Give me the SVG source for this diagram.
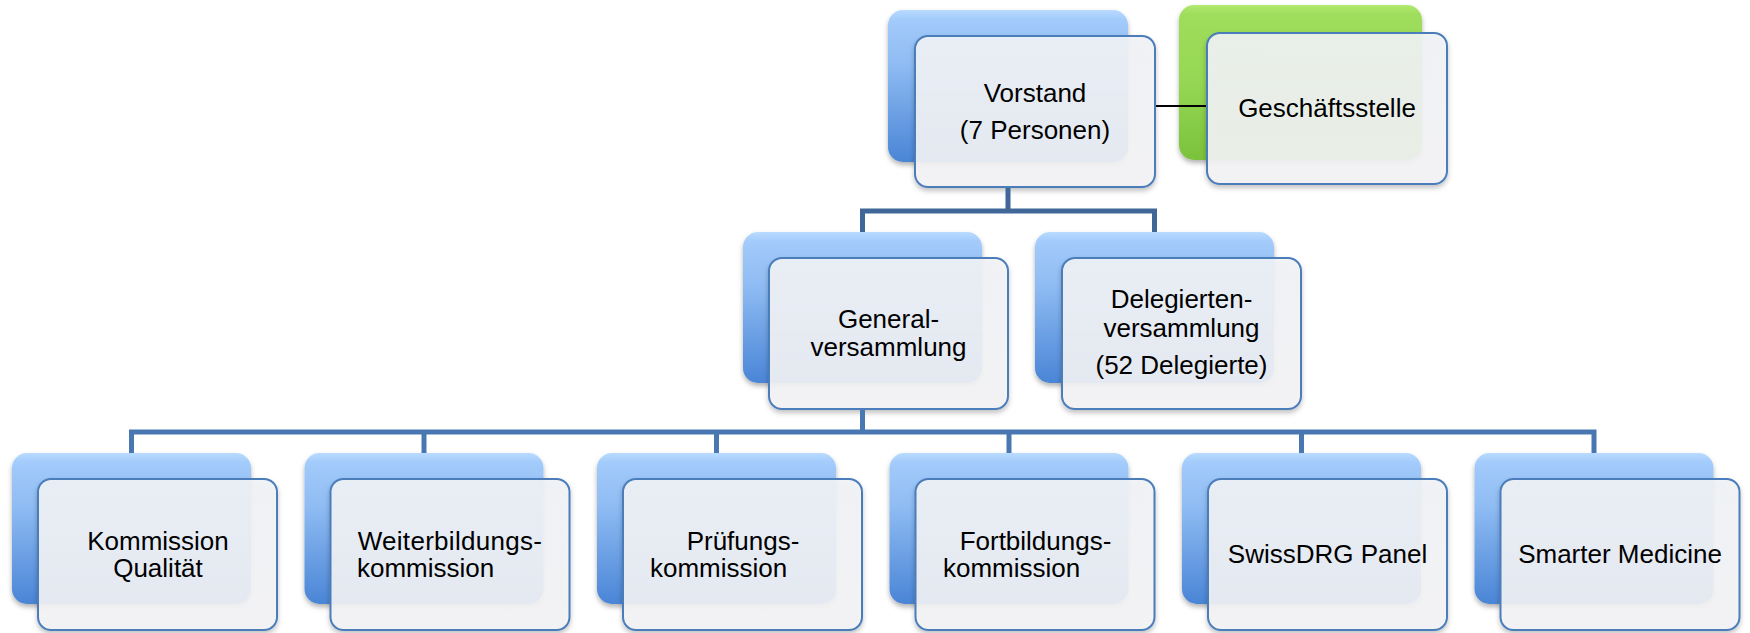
<svg xmlns="http://www.w3.org/2000/svg" width="1750" height="633" viewBox="0 0 1750 633">
<style>
  .back{fill:url(#blueGrad);filter:url(#sh);}
  .backG{fill:url(#greenGrad);filter:url(#sh);}
  .front{fill:url(#frontGrad);fill-opacity:0.9;stroke:#4b7dba;stroke-width:2;filter:url(#sh2);}
  .t{font-family:"Liberation Sans",Arial,sans-serif;font-size:26px;fill:#000;text-anchor:middle;}
  .ts{text-anchor:start;}
  .c1{fill:none;stroke:#3f6898;stroke-width:5;stroke-linejoin:miter;}
  .c2{fill:none;stroke:#4877b1;stroke-width:5;stroke-linejoin:miter;}
  .cb{fill:none;stroke:#000;stroke-width:2;}
</style>
<defs>
  <linearGradient id="blueGrad" x1="0" y1="0" x2="0" y2="1">
    <stop offset="0" stop-color="#b9dbff"/>
    <stop offset="0.06" stop-color="#a3cbfb"/>
    <stop offset="0.35" stop-color="#8fbcf3"/>
    <stop offset="1" stop-color="#4a85d6"/>
  </linearGradient>
  <linearGradient id="greenGrad" x1="0" y1="0" x2="0" y2="1">
    <stop offset="0" stop-color="#b2ea70"/>
    <stop offset="0.06" stop-color="#9fdd5c"/>
    <stop offset="0.5" stop-color="#95d753"/>
    <stop offset="1" stop-color="#7bc23c"/>
  </linearGradient>
  <linearGradient id="frontGrad" x1="0" y1="0" x2="0" y2="1">
    <stop offset="0" stop-color="#f1f3f7"/>
    <stop offset="1" stop-color="#f4f4f6"/>
  </linearGradient>
  <filter id="sh" x="-10%" y="-10%" width="120%" height="130%">
    <feDropShadow dx="0" dy="3" stdDeviation="2.5" flood-color="#000" flood-opacity="0.3"/>
  </filter>
  <filter id="sh2" x="-10%" y="-10%" width="120%" height="130%">
    <feDropShadow dx="0" dy="3" stdDeviation="2.5" flood-color="#000" flood-opacity="0.25"/>
  </filter>
</defs>
<rect width="1750" height="633" fill="#fff"/>

<g id="node-vorstand">
  <rect class="back" x="888" y="10" width="240" height="152" rx="15"/>
  <rect class="front" x="915" y="36" width="240" height="151" rx="13"/>
  <text class="t" x="1035" y="102">Vorstand</text>
  <text class="t" x="1035" y="139">(7 Personen)</text>
</g>

<g id="node-geschaeftsstelle">
  <rect class="backG" x="1179" y="5" width="243" height="155" rx="15"/>
  <rect class="front" x="1207" y="33" width="240" height="151" rx="13"/>
  <text class="t" x="1327" y="117">Geschäftsstelle</text>
</g>

<g id="node-generalversammlung">
  <rect class="back" x="743" y="232" width="239" height="151" rx="15"/>
  <rect class="front" x="769" y="258" width="239" height="151" rx="13"/>
  <text class="t" x="888.5" y="328">General-</text>
  <text class="t" x="888.5" y="356">versammlung</text>
</g>

<g id="node-delegiertenversammlung">
  <rect class="back" x="1035" y="232" width="239" height="151" rx="15"/>
  <rect class="front" x="1062" y="258" width="239" height="151" rx="13"/>
  <text class="t" x="1181.5" y="308">Delegierten-</text>
  <text class="t" x="1181.5" y="337">versammlung</text>
  <text class="t" x="1181.5" y="374">(52 Delegierte)</text>
</g>

<g id="node-kommission-qualitaet">
  <rect class="back" x="12" y="453" width="239" height="151" rx="15"/>
  <rect class="front" x="38" y="479" width="239" height="151" rx="13"/>
  <text class="t" x="158" y="550">Kommission</text>
  <text class="t" x="158" y="577">Qualität</text>
</g>

<g id="node-weiterbildungskommission">
  <rect class="back" x="304.5" y="453" width="239" height="151" rx="15"/>
  <rect class="front" x="330.5" y="479" width="239" height="151" rx="13"/>
  <text class="t" x="450" y="550" letter-spacing="0.3">Weiterbildungs-</text>
  <text class="t ts" x="357" y="577">kommission</text>
</g>

<g id="node-pruefungskommission">
  <rect class="back" x="597" y="453" width="239" height="151" rx="15"/>
  <rect class="front" x="623" y="479" width="239" height="151" rx="13"/>
  <text class="t" x="743" y="550">Prüfungs-</text>
  <text class="t ts" x="650" y="577">kommission</text>
</g>

<g id="node-fortbildungskommission">
  <rect class="back" x="889.5" y="453" width="239" height="151" rx="15"/>
  <rect class="front" x="915.5" y="479" width="239" height="151" rx="13"/>
  <text class="t" x="1035.5" y="550">Fortbildungs-</text>
  <text class="t ts" x="943" y="577">kommission</text>
</g>

<g id="node-swissdrg-panel">
  <rect class="back" x="1182" y="453" width="239" height="151" rx="15"/>
  <rect class="front" x="1208" y="479" width="239" height="151" rx="13"/>
  <text class="t" x="1327.5" y="563">SwissDRG Panel</text>
</g>

<g id="node-smarter-medicine">
  <rect class="back" x="1474.5" y="453" width="239" height="151" rx="15"/>
  <rect class="front" x="1500.5" y="479" width="239" height="151" rx="13"/>
  <text class="t" x="1620" y="563">Smarter Medicine</text>
</g>

<g id="connectors">
  <line class="cb" x1="1156" y1="106" x2="1206" y2="106"/>
  <path class="c1" d="M1008 188 V211 M862.5 232 V211 H1154.5 V232"/>
  <path class="c2" d="M862.5 410 V432 M131.5 453 V432 H1594 V453 M424 432 V453 M716.5 432 V453 M1009 432 V453 M1301.5 432 V453"/>
</g>
</svg>
